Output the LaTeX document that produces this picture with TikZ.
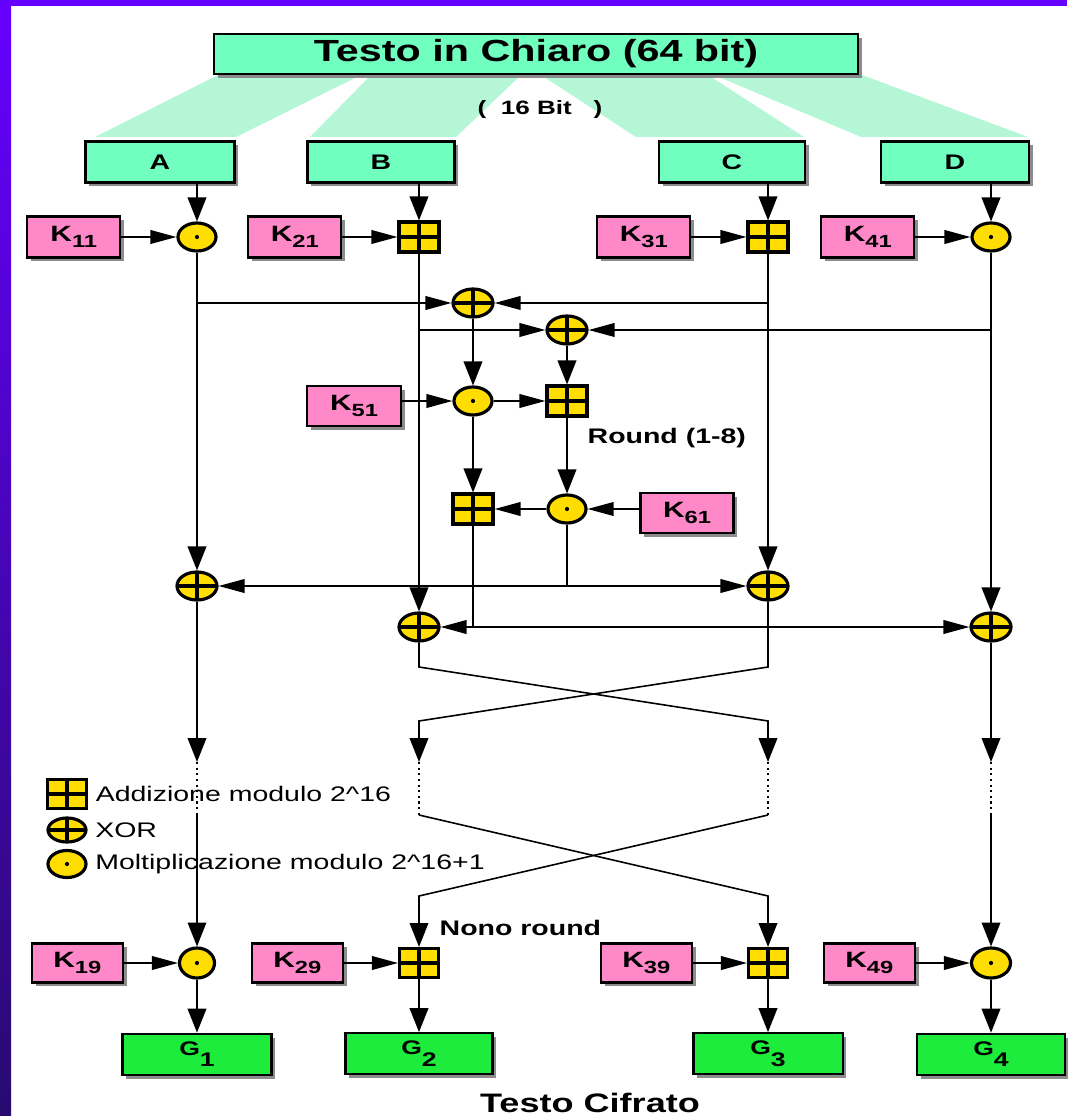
\documentclass[tikz,border=0pt]{standalone}
\usepackage{fontspec}
\setmainfont{Liberation Sans}
\usepackage{graphicx}
\usetikzlibrary{arrows.meta, positioning, shapes.geometric, shadows}
\definecolor{frameviolet}{RGB}{102,0,255}
\definecolor{framedark}{RGB}{40,10,112}
\definecolor{mintbox}{RGB}{112,255,190}
\definecolor{fanmint}{RGB}{180,246,214}
\definecolor{keypink}{RGB}{255,136,200}
\definecolor{opyellow}{RGB}{255,221,0}
\definecolor{outgreen}{RGB}{30,236,60}
\newcommand{\stretchtxt}[1]{\scalebox{1.35}[1]{#1}}
\newcommand{\keylbl}[1]{\stretchtxt{K\raisebox{-0.5ex}{\fontsize{5}{5}\selectfont #1}}}
\newcommand{\outlbl}[1]{\stretchtxt{G\raisebox{-1.1ex}{#1}}}

\begin{document}
\begin{tikzpicture}[x=0.01cm, y=-0.01cm,
    line/.style={line width=0.45pt, draw=black},
    harrow/.style={line, -{Triangle[length=7.4pt, width=3.9pt]}},
    varrow/.style={line, -{Triangle[length=6.8pt, width=5.3pt]}},
    shadowed/.style={draw=black, line width=0.6pt, inner sep=0pt,
        drop shadow={shadow xshift=1.1pt, shadow yshift=-1.1pt, fill=black!45, opacity=1}},
    halfbox/.style={shadowed, fill=mintbox, minimum width=1.48cm, minimum height=0.41cm,
        font=\fontsize{6}{7}\selectfont\bfseries},
    keybox/.style={shadowed, fill=keypink, minimum width=0.93cm, minimum height=0.41cm,
        font=\fontsize{6.3}{7}\selectfont\bfseries},
    outbox/.style={shadowed, fill=outgreen, minimum width=1.48cm, minimum height=0.41cm,
        font=\fontsize{5.6}{6}\selectfont\bfseries},
    op/.style={draw=black, line width=0.9pt, fill=opyellow, inner sep=0pt},
    cross/.style={path picture={\draw[black, line width=0.9pt]
        (path picture bounding box.north) -- (path picture bounding box.south)
        (path picture bounding box.west) -- (path picture bounding box.east);}},
    mul/.style={op, ellipse, minimum width=0.38cm, minimum height=0.28cm,
        path picture={\fill[black] (path picture bounding box.center) circle (0.6pt);}},
    xor/.style={op, ellipse, cross, minimum width=0.40cm, minimum height=0.28cm},
    add/.style={op, rectangle, cross, minimum width=0.40cm, minimum height=0.30cm},
    note/.style={font=\fontsize{6}{7}\selectfont\bfseries, inner sep=0pt},
    legend/.style={font=\fontsize{6}{7}\selectfont, inner sep=0pt}
]
    \useasboundingbox (0,0) rectangle (1067,1116);

    % slide frame
    \fill[frameviolet] (0,0) rectangle (1067,6);
    \shade[top color=frameviolet, bottom color=framedark] (0,0) rectangle (11,1116);

    % 16 bit fans from the plain text to the four blocks
    \fill[fanmint] (218,75) -- (361,75) -- (236,137) -- (95,137) -- cycle;
    \fill[fanmint] (371,75) -- (521,75) -- (456,137) -- (310,137) -- cycle;
    \fill[fanmint] (541,75) -- (708,75) -- (804,137) -- (636,137) -- cycle;
    \fill[fanmint] (714,75) -- (862,75) -- (1028,137) -- (861,137) -- cycle;

    % Plain text and its four blocks
    \node[halfbox, minimum width=6.44cm, minimum height=0.40cm,
          font=\fontsize{8.7}{10}\selectfont\bfseries] (plain) at (536,54) {\stretchtxt{Testo in Chiaro (64 bit)}};
    \node[note, font=\fontsize{5.5}{6}\selectfont\bfseries] (bitnote) at (540,110) {\stretchtxt{(\ \ 16 Bit\ \ \ )}};
    \node[halfbox, minimum width=1.49cm] (blockA) at (160,162) {\stretchtxt{A}};
    \node[halfbox, minimum width=1.47cm] (blockB) at (381,162) {\stretchtxt{B}};
    \node[halfbox, minimum width=1.46cm] (blockC) at (732,162) {\stretchtxt{C}};
    \node[halfbox, minimum width=1.48cm] (blockD) at (955,162) {\stretchtxt{D}};

    % First key layer
    \node[mul] (m11) at (197,237) {};
    \node[add] (a21) at (419,237) {};
    \node[add] (a31) at (768,237) {};
    \node[mul] (m41) at (991,237) {};
    \node[keybox, left=0.55cm of m11] (k11) {\keylbl{11}};
    \node[keybox, left=0.55cm of a21] (k21) {\keylbl{21}};
    \node[keybox, left=0.55cm of a31] (k31) {\keylbl{31}};
    \node[keybox, left=0.55cm of m41] (k41) {\keylbl{41}};

    % Xor of the two pairs
    \node[xor] (x1) at (473,303) {};
    \node[xor] (x2) at (567,330) {};

    % MA structure
    \node[mul] (m51) at (473,401) {};
    \node[add] (a52) at (567,401) {};
    \node[add] (a53) at (473,509) {};
    \node[mul] (m54) at (567,509) {};
    \node[keybox, minimum width=0.94cm, minimum height=0.40cm] (k51) at (354,406) {\keylbl{51}};
    \node[keybox, minimum height=0.40cm] (k61) at (687,513) {\keylbl{61}};
    \node[note, anchor=west] (roundnote) at (587,438) {\stretchtxt{Round (1-8)}};

    % Output xors of the round
    \node[xor] (xa) at (197,586) {};
    \node[xor] (xc) at (768,586) {};
    \node[xor] (xb) at (419,627) {};
    \node[xor] (xd) at (991,627) {};

    % Legend
    \node[add, minimum height=0.29cm, minimum width=0.39cm] (legAdd) at (67,794) {};
    \node[xor, minimum height=0.24cm, minimum width=0.38cm] (legXor) at (67,830) {};
    \node[mul, minimum height=0.27cm] (legMul) at (67,864) {};
    \node[legend, right=0.07cm of legAdd] (legAddTxt) {\stretchtxt{Addizione modulo 2\textasciicircum 16}};
    \node[legend, right=0.07cm of legXor] (legXorTxt) {\stretchtxt{XOR}};
    \node[legend, right=0.07cm of legMul] (legMulTxt) {\stretchtxt{Moltiplicazione modulo 2\textasciicircum 16+1}};

    % Final transformation
    \node[mul, minimum width=0.35cm, minimum height=0.30cm] (m19) at (197,963) {};
    \node[add, minimum width=0.39cm, minimum height=0.29cm] (a29) at (419,963) {};
    \node[add, minimum width=0.39cm, minimum height=0.29cm] (a39) at (768,963) {};
    \node[mul, minimum width=0.39cm, minimum height=0.30cm] (m49) at (991,963) {};
    \node[keybox, minimum width=0.91cm, minimum height=0.39cm, left=0.54cm of m19] (k19) {\keylbl{19}};
    \node[keybox, minimum width=0.91cm, minimum height=0.39cm, left=0.54cm of a29] (k29) {\keylbl{29}};
    \node[keybox, minimum width=0.91cm, minimum height=0.39cm, left=0.54cm of a39] (k39) {\keylbl{39}};
    \node[keybox, minimum width=0.91cm, minimum height=0.39cm, left=0.54cm of m49] (k49) {\keylbl{49}};
    \node[note, anchor=west] (lastnote) at (439,928) {\stretchtxt{Nono round}};

    % Cipher text blocks
    \node[outbox, minimum width=1.49cm, below=0.53cm of m19] (g1) {\outlbl{1}};
    \node[outbox, minimum width=1.47cm, below=0.53cm of a29] (g2) {\outlbl{2}};
    \node[outbox, minimum width=1.49cm, below=0.53cm of a39] (g3) {\outlbl{3}};
    \node[outbox, minimum width=1.48cm, below=0.53cm of m49] (g4) {\outlbl{4}};
    \node[note, font=\fontsize{7.6}{9}\selectfont\bfseries] (cipher) at (590,1103) {\stretchtxt{Testo Cifrato}};

    % Rows used by the swap
    \coordinate (swapTop) at (0,667);
    \coordinate (swapBot) at (0,721);
    \coordinate (dotTop) at (0,762);
    \coordinate (dotBot) at (0,815);
    \coordinate (unswap) at (0,896);

    % Blocks into the first key layer
    \draw[varrow] (blockA.south -| m11) -- (m11);
    \draw[varrow] (blockB.south -| a21) -- (a21);
    \draw[varrow] (blockC.south -| a31) -- (a31);
    \draw[varrow] (blockD.south -| m41) -- (m41);
    \foreach \k/\o in {k11/m11, k21/a21, k31/a31, k41/m41}
        \draw[harrow] (\k) -- (\o);

    % Columns down to the output xors
    \draw[varrow] (m11) -- (xa);
    \draw[varrow] (a21) -- (xb);
    \draw[varrow] (a31) -- (xc);
    \draw[varrow] (m41) -- (xd);

    % Into the first xors
    \draw[harrow] (m11 |- x1) -- (x1);
    \draw[harrow] (a31 |- x1) -- (x1);
    \draw[harrow] (a21 |- x2) -- (x2);
    \draw[harrow] (m41 |- x2) -- (x2);

    % MA structure
    \draw[varrow] (x1) -- (m51);
    \draw[varrow] (x2) -- (a52);
    \draw[harrow] (k51.east |- m51) -- (m51);
    \draw[harrow] (m51) -- (a52);
    \draw[varrow] (a52) -- (m54);
    \draw[varrow] (m51) -- (a53);
    \draw[harrow] (k61.west |- m54) -- (m54);
    \draw[harrow] (m54) -- (a53);

    % MA outputs to the output xors
    \coordinate (j1) at (m54 |- xa);
    \coordinate (j2) at (a53 |- xb);
    \draw[line] (m54) -- (j1);
    \draw[harrow] (j1) -- (xa);
    \draw[harrow] (j1) -- (xc);
    \draw[line] (a53) -- (j2);
    \draw[harrow] (j2) -- (xb);
    \draw[harrow] (j2) -- (xd);

    % Swap of the inner blocks and the further rounds
    \draw[varrow] (xa) -- (xa |- dotTop);
    \draw[varrow] (xd) -- (xd |- dotTop);
    \draw[varrow] (xb) -- (xb |- swapTop) -- (xc |- swapBot) -- (xc |- dotTop);
    \draw[varrow] (xc) -- (xc |- swapTop) -- (xb |- swapBot) -- (xb |- dotTop);
    \foreach \c in {xa, xb, xc, xd}
        \draw[line, line width=0.6pt, densely dotted] (\c |- dotTop) -- (\c |- dotBot);

    % Last round undoes the swap
    \draw[varrow] (xa |- dotBot) -- (m19);
    \draw[varrow] (xb |- dotBot) -- (xc |- unswap) -- (a39);
    \draw[varrow] (xc |- dotBot) -- (xb |- unswap) -- (a29);
    \draw[varrow] (xd |- dotBot) -- (m49);

    % Final keys and cipher text
    \foreach \k/\o in {k19/m19, k29/a29, k39/a39, k49/m49}
        \draw[harrow] (\k) -- (\o);
    \foreach \o/\g in {m19/g1, a29/g2, a39/g3, m49/g4}
        \draw[varrow] (\o) -- (\g);

\end{tikzpicture}
\end{document}
